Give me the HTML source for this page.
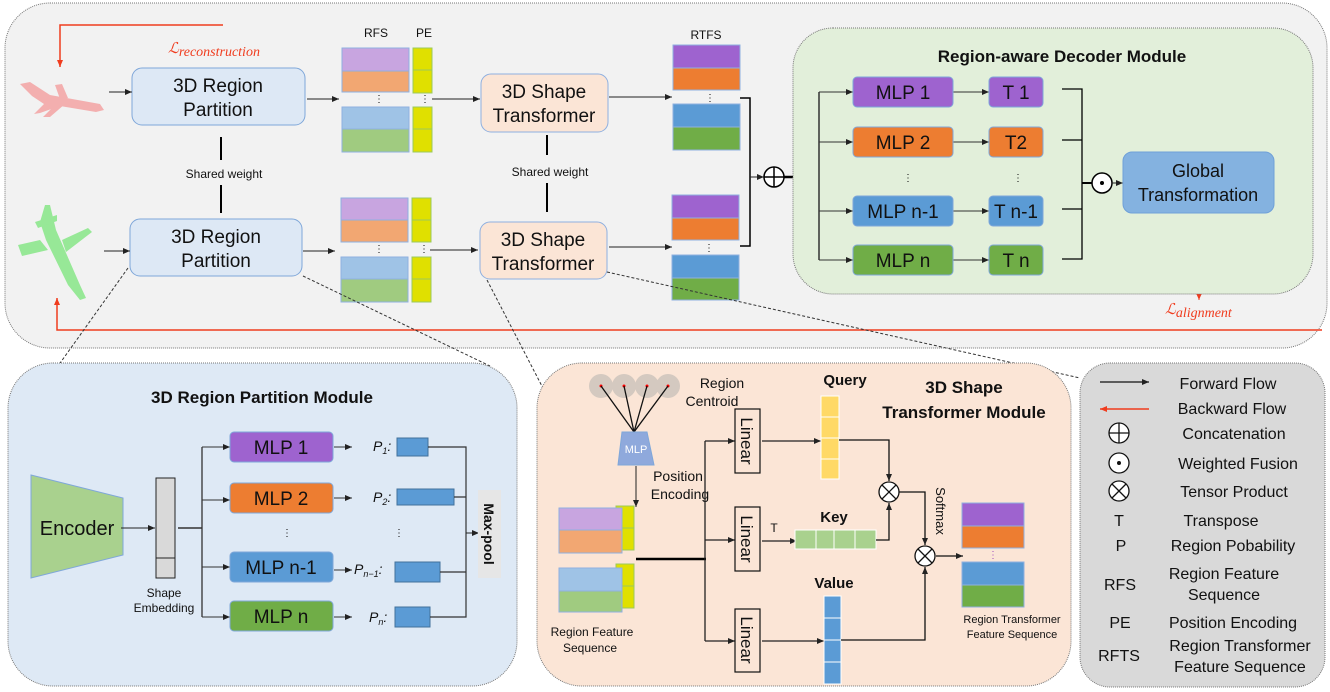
<!DOCTYPE html>
<html><head><meta charset="utf-8"><style>
html,body{margin:0;padding:0;background:#fff}
svg{display:block}
text{font-family:"Liberation Sans",Arial,sans-serif;fill:#111}
.b{font-weight:bold}
.m{font-family:"Liberation Serif",serif;font-style:italic}
</style></head><body>
<svg width="1330" height="692" viewBox="0 0 1330 692" xmlns="http://www.w3.org/2000/svg">
<defs>
<marker id="a" markerWidth="8" markerHeight="8" refX="7" refY="4" orient="auto" markerUnits="userSpaceOnUse"><path d="M0,1 L7,4 L0,7 Z" fill="#222"/></marker>
<marker id="r" markerWidth="8" markerHeight="8" refX="7" refY="4" orient="auto" markerUnits="userSpaceOnUse"><path d="M0,1 L7,4 L0,7 Z" fill="#f03c1e"/></marker>
</defs>
<rect x="5" y="3" width="1322" height="345" rx="45" fill="#f2f2f2" stroke="#777" stroke-dasharray="1,1"/>
<polyline points="223,25 60,25 60,67" fill="none" stroke="#f03c1e" stroke-width="1.5" marker-end="url(#r)"/>
<text x="168" y="53" class="m" font-size="15" style="fill:#f03c1e">ℒ<tspan font-size="14" dy="3">reconstruction</tspan></text>
<polyline points="1322,330 57,330 57,298" fill="none" stroke="#f03c1e" stroke-width="1.5" marker-end="url(#r)"/>
<line x1="1199" y1="213" x2="1199" y2="300" stroke="#f03c1e" stroke-width="1" marker-end="url(#r)"/>
<text x="1165" y="314" class="m" font-size="15" style="fill:#f03c1e">ℒ<tspan font-size="14" dy="3">alignment</tspan></text>
<g fill="#f47a7a" opacity="0.55">
<polygon points="20,84 30,82 50,95 100,104 104,110 96,112 60,106 40,113 34,114 44,104 32,96"/>
<polygon points="55,85 62,84 68,98 60,99"/>
<polygon points="55,105 65,104 50,117 43,117"/>
</g>
<g fill="#4de04d" opacity="0.55">
<polygon points="45,205 50,205 56,230 80,285 86,298 80,300 68,285 46,240 40,222"/>
<polygon points="18,245 40,240 48,250 22,256"/>
<polygon points="62,240 88,228 92,232 66,252"/>
<polygon points="35,222 57,215 57,221 38,228"/>
</g>
<rect x="132" y="68" width="173" height="57" rx="10" fill="#dde8f5" stroke="#7fa7d9"/>
<text x="218" y="92" font-size="19" text-anchor="middle">3D Region</text>
<text x="218" y="116" font-size="19" text-anchor="middle">Partition</text>
<rect x="130" y="219" width="172" height="57" rx="10" fill="#dde8f5" stroke="#7fa7d9"/>
<text x="216" y="243" font-size="19" text-anchor="middle">3D Region</text>
<text x="216" y="267" font-size="19" text-anchor="middle">Partition</text>
<line x1="109" y1="92" x2="132" y2="92" stroke="#222" marker-end="url(#a)"/>
<line x1="104" y1="251" x2="130" y2="251" stroke="#222" marker-end="url(#a)"/>
<line x1="221" y1="137" x2="221" y2="160" stroke="#000" stroke-width="2"/>
<text x="224" y="178" font-size="12" text-anchor="middle">Shared weight</text>
<line x1="221" y1="185" x2="221" y2="213" stroke="#000" stroke-width="2"/>
<line x1="307" y1="99" x2="339" y2="99" stroke="#222" marker-end="url(#a)"/>
<line x1="303" y1="251" x2="335" y2="251" stroke="#222" marker-end="url(#a)"/>
<text x="376" y="37" font-size="12" text-anchor="middle">RFS</text>
<text x="424" y="37" font-size="12" text-anchor="middle">PE</text>
<g stroke="#8fb0e0">
<rect x="342" y="48" width="67" height="23" fill="#c8a5e0"/><rect x="342" y="71" width="67" height="21" fill="#f2a772"/>
<rect x="342" y="107" width="67" height="22" fill="#9fc3e6"/><rect x="342" y="129" width="67" height="23" fill="#a0cb80"/>
<rect x="341" y="198" width="67" height="22" fill="#c8a5e0"/><rect x="341" y="220" width="67" height="22" fill="#f2a772"/>
<rect x="341" y="257" width="67" height="22" fill="#9fc3e6"/><rect x="341" y="279" width="67" height="23" fill="#a0cb80"/>
</g>
<g stroke="#9bc95c" fill="#e0e000">
<rect x="413" y="48" width="19" height="22"/><rect x="413" y="70" width="19" height="23"/>
<rect x="413" y="107" width="19" height="22"/><rect x="413" y="129" width="19" height="23"/>
<rect x="412" y="198" width="19" height="22"/><rect x="412" y="220" width="19" height="22"/>
<rect x="412" y="257" width="19" height="22"/><rect x="412" y="279" width="19" height="23"/>
</g>
<g fill="#666" font-size="10"><text x="374" y="102">⋮</text><text x="420" y="102">⋮</text><text x="374" y="252">⋮</text><text x="419" y="252">⋮</text></g>
<line x1="432" y1="99" x2="480" y2="99" stroke="#222" marker-end="url(#a)"/>
<line x1="430" y1="250" x2="478" y2="250" stroke="#222" marker-end="url(#a)"/>
<rect x="481" y="74" width="127" height="58" rx="10" fill="#fbe5d6" stroke="#8fb0e0"/>
<text x="544" y="98" font-size="19" text-anchor="middle">3D Shape</text>
<text x="544" y="122" font-size="19" text-anchor="middle">Transformer</text>
<rect x="480" y="222" width="127" height="57" rx="10" fill="#fbe5d6" stroke="#8fb0e0"/>
<text x="543" y="246" font-size="19" text-anchor="middle">3D Shape</text>
<text x="543" y="270" font-size="19" text-anchor="middle">Transformer</text>
<line x1="547" y1="135" x2="547" y2="155" stroke="#000" stroke-width="2"/>
<text x="550" y="176" font-size="12" text-anchor="middle">Shared weight</text>
<line x1="547" y1="183" x2="547" y2="212" stroke="#000" stroke-width="2"/>
<line x1="609" y1="97" x2="672" y2="97" stroke="#222" marker-end="url(#a)"/>
<line x1="609" y1="247" x2="672" y2="247" stroke="#222" marker-end="url(#a)"/>
<text x="706" y="39" font-size="12" text-anchor="middle">RTFS</text>
<g stroke="#8fb0e0">
<rect x="673" y="45" width="67" height="23" fill="#9e63cf"/><rect x="673" y="68" width="67" height="22" fill="#ed7d31"/>
<rect x="673" y="104" width="67" height="23" fill="#5b9bd5"/><rect x="673" y="127" width="67" height="23" fill="#70ad47"/>
<rect x="672" y="195" width="67" height="23" fill="#9e63cf"/><rect x="672" y="218" width="67" height="22" fill="#ed7d31"/>
<rect x="672" y="255" width="67" height="23" fill="#5b9bd5"/><rect x="672" y="278" width="67" height="22" fill="#70ad47"/>
</g>
<g fill="#666" font-size="10"><text x="705" y="101">⋮</text><text x="704" y="251">⋮</text></g>
<polyline points="740,98 750,98 750,246 740,246" fill="none" stroke="#000" stroke-width="1.5"/>
<line x1="750" y1="177" x2="764" y2="177" stroke="#222" marker-end="url(#a)"/>
<circle cx="774" cy="177" r="10" fill="#fff" stroke="#000" stroke-width="1.5"/>
<path d="M764,177 H784 M774,167 V187" stroke="#000" stroke-width="1.5"/>
<line x1="784" y1="177" x2="820" y2="177" stroke="#000" stroke-width="2.5"/>
<rect x="793" y="28" width="520" height="266" rx="40" fill="#e2efda" stroke="#777" stroke-dasharray="1,1"/>
<text x="1062" y="62" font-size="17" class="b" text-anchor="middle">Region-aware Decoder Module</text>
<line x1="819" y1="92" x2="819" y2="260" stroke="#333" stroke-width="1.5"/>
<g stroke="#333" marker-end="url(#a)">
<line x1="819" y1="92" x2="853" y2="92"/><line x1="819" y1="142" x2="853" y2="142"/>
<line x1="819" y1="211" x2="853" y2="211"/><line x1="819" y1="260" x2="853" y2="260"/>
<line x1="953" y1="92" x2="989" y2="92"/><line x1="953" y1="142" x2="989" y2="142"/>
<line x1="953" y1="211" x2="989" y2="211"/><line x1="953" y1="260" x2="989" y2="260"/>
</g>
<g stroke="#7fa7d9">
<rect x="853" y="77" width="100" height="30" rx="4" fill="#9e63cf"/>
<rect x="853" y="127" width="100" height="30" rx="4" fill="#ed7d31"/>
<rect x="853" y="196" width="100" height="30" rx="4" fill="#5b9bd5"/>
<rect x="853" y="245" width="100" height="30" rx="4" fill="#70ad47"/>
<rect x="989" y="77" width="54" height="30" rx="4" fill="#9e63cf"/>
<rect x="989" y="127" width="54" height="30" rx="4" fill="#ed7d31"/>
<rect x="989" y="196" width="54" height="30" rx="4" fill="#5b9bd5"/>
<rect x="989" y="245" width="54" height="30" rx="4" fill="#70ad47"/>
</g>
<g font-size="19" text-anchor="middle">
<text x="903" y="99">MLP 1</text><text x="903" y="149">MLP 2</text><text x="903" y="218">MLP n-1</text><text x="903" y="267">MLP n</text>
<text x="1016" y="99">T 1</text><text x="1016" y="149">T2</text><text x="1016" y="218">T n-1</text><text x="1016" y="267">T n</text>
</g>
<g fill="#999" font-size="10"><text x="903" y="181">⋮</text><text x="1013" y="181">⋮</text></g>
<g stroke="#000" stroke-width="1.3" fill="none">
<path d="M1062,89 H1082 V259 H1062 M1062,140 H1082 M1062,209 H1082"/>
</g>
<line x1="1082" y1="183" x2="1092" y2="183" stroke="#000" stroke-width="2"/>
<circle cx="1102" cy="183" r="10" fill="#fff" stroke="#000" stroke-width="1.5"/>
<circle cx="1102" cy="183" r="2" fill="#000"/>
<line x1="1112" y1="183" x2="1123" y2="183" stroke="#222" marker-end="url(#a)"/>
<rect x="1123" y="152" width="151" height="61" rx="9" fill="#84b2e0" stroke="#6fa0d8"/>
<text x="1198" y="177" font-size="18" text-anchor="middle">Global</text>
<text x="1198" y="201" font-size="18" text-anchor="middle">Transformation</text>
<g stroke="#333" stroke-dasharray="3,2" fill="none">
<line x1="128" y1="268" x2="58" y2="366"/>
<line x1="303" y1="276" x2="490" y2="366"/>
<line x1="487" y1="280" x2="545" y2="392"/>
<line x1="607" y1="272" x2="1080" y2="378"/>
</g>
<rect x="8" y="363" width="509" height="323" rx="45" fill="#dee9f5" stroke="#777" stroke-dasharray="1,1"/>
<text x="262" y="403" font-size="17" class="b" text-anchor="middle">3D Region Partition Module</text>
<polygon points="31,475 123,498 123,555 31,578" fill="#a9d18e" stroke="#7fa7d9"/>
<text x="77" y="535" font-size="20" text-anchor="middle">Encoder</text>
<line x1="121" y1="528" x2="155" y2="528" stroke="#222" marker-end="url(#a)"/>
<rect x="156" y="478" width="19" height="100" fill="#d9d9d9" stroke="#222"/>
<line x1="156" y1="558" x2="175" y2="558" stroke="#222"/>
<text x="164" y="597" font-size="12" text-anchor="middle">Shape</text>
<text x="164" y="612" font-size="12" text-anchor="middle">Embedding</text>
<line x1="178" y1="528" x2="202" y2="528" stroke="#333" stroke-width="1.5"/>
<line x1="202" y1="447" x2="202" y2="617" stroke="#333" stroke-width="1.3"/>
<g stroke="#333" marker-end="url(#a)">
<line x1="202" y1="447" x2="230" y2="447"/><line x1="202" y1="500" x2="230" y2="500"/>
<line x1="202" y1="567" x2="230" y2="567"/><line x1="202" y1="617" x2="230" y2="617"/>
<line x1="334" y1="447" x2="352" y2="447"/><line x1="334" y1="498" x2="352" y2="498"/>
<line x1="334" y1="570" x2="352" y2="570"/><line x1="334" y1="617" x2="352" y2="617"/>
</g>
<g stroke="#7fa7d9">
<rect x="230" y="432" width="103" height="30" rx="4" fill="#9e63cf"/>
<rect x="230" y="483" width="103" height="30" rx="4" fill="#ed7d31"/>
<rect x="230" y="552" width="103" height="30" rx="4" fill="#5b9bd5"/>
<rect x="230" y="601" width="103" height="30" rx="4" fill="#70ad47"/>
</g>
<g font-size="19" text-anchor="middle">
<text x="281" y="454">MLP 1</text><text x="281" y="505">MLP 2</text><text x="281" y="574">MLP n-1</text><text x="281" y="623">MLP n</text>
</g>
<g fill="#999" font-size="10"><text x="282" y="536">⋮</text><text x="394" y="536">⋮</text></g>
<g class="m" font-size="14">
<text x="373" y="451">P<tspan font-size="9" dy="3">1</tspan><tspan dy="-3">:</tspan></text>
<text x="373" y="502">P<tspan font-size="9" dy="3">2</tspan><tspan dy="-3">:</tspan></text>
<text x="354" y="574">P<tspan font-size="9" dy="3">n−1</tspan><tspan dy="-3">:</tspan></text>
<text x="369" y="622">P<tspan font-size="9" dy="3">n</tspan><tspan dy="-3">:</tspan></text>
</g>
<g fill="#5b9bd5" stroke="#41719c">
<rect x="397" y="438" width="31" height="18"/><rect x="397" y="489" width="57" height="16"/>
<rect x="395" y="562" width="45" height="20"/><rect x="395" y="607" width="35" height="20"/>
</g>
<g stroke="#333" fill="none" stroke-width="1.2">
<path d="M428,447 H466 V617 H430 M454,497 H466 M440,572 H466"/>
</g>
<line x1="466" y1="533" x2="479" y2="533" stroke="#222" marker-end="url(#a)"/>
<rect x="478" y="490" width="23" height="88" fill="#e6e6e6"/>
<text transform="translate(484,534) rotate(90)" font-size="14" class="b" text-anchor="middle">Max-pool</text>
<rect x="537" y="363" width="534" height="323" rx="45" fill="#fbe5d6" stroke="#777" stroke-dasharray="1,1"/>
<text x="964" y="393" font-size="17" class="b" text-anchor="middle">3D Shape</text>
<text x="964" y="418" font-size="17" class="b" text-anchor="middle">Transformer Module</text>
<g fill="#d4c9c0">
<circle cx="601" cy="386" r="12"/><circle cx="624" cy="386" r="12"/><circle cx="647" cy="386" r="12"/><circle cx="668" cy="386" r="12"/>
</g>
<g fill="#f00"><circle cx="601" cy="386" r="1.5"/><circle cx="624" cy="386" r="1.5"/><circle cx="647" cy="386" r="1.5"/><circle cx="668" cy="386" r="1.5"/></g>
<g stroke="#111" stroke-width="1.3"><line x1="601" y1="386" x2="634" y2="432"/><line x1="624" y1="386" x2="634" y2="432"/><line x1="647" y1="386" x2="634" y2="432"/><line x1="668" y1="386" x2="634" y2="432"/></g>
<polygon points="622,432 647,432 654,465 618,465" fill="#8fa9dc" stroke="#7fa7d9"/>
<text x="636" y="453" font-size="11" text-anchor="middle" style="fill:#fff">MLP</text>
<text x="722" y="388" font-size="14" text-anchor="middle">Region</text>
<text x="712" y="406" font-size="14" text-anchor="middle">Centroid</text>
<line x1="636" y1="466" x2="636" y2="507" stroke="#222" marker-end="url(#a)"/>
<text x="678" y="481" font-size="14" text-anchor="middle">Position</text>
<text x="680" y="499" font-size="14" text-anchor="middle">Encoding</text>
<g stroke="#9bc95c" fill="#e0e000"><rect x="616" y="506" width="18" height="22"/><rect x="616" y="528" width="18" height="22"/><rect x="616" y="564" width="18" height="22"/><rect x="616" y="586" width="18" height="22"/></g>
<g stroke="#8fb0e0"><rect x="559" y="508" width="63" height="22" fill="#c8a5e0"/><rect x="559" y="530" width="63" height="23" fill="#f2a772"/><rect x="559" y="568" width="63" height="23" fill="#9fc3e6"/><rect x="559" y="591" width="63" height="21" fill="#a0cb80"/></g>
<text x="592" y="636" font-size="12" text-anchor="middle">Region Feature</text>
<text x="590" y="652" font-size="12" text-anchor="middle">Sequence</text>
<line x1="636" y1="559" x2="706" y2="559" stroke="#000" stroke-width="2.5"/>
<line x1="705" y1="441" x2="705" y2="641" stroke="#222" stroke-width="1.3"/>
<g stroke="#222" stroke-width="1.3" marker-end="url(#a)">
<line x1="705" y1="441" x2="735" y2="441"/><line x1="705" y1="540" x2="735" y2="540"/><line x1="705" y1="641" x2="735" y2="641"/>
<line x1="762" y1="441" x2="821" y2="441"/><line x1="762" y1="541" x2="797" y2="541"/><line x1="762" y1="641" x2="824" y2="641"/>
</g>
<g fill="none" stroke="#111" stroke-width="1.2"><rect x="735" y="409" width="25" height="64"/><rect x="735" y="507" width="25" height="64"/><rect x="735" y="609" width="25" height="63"/></g>
<g font-size="17" text-anchor="middle">
<text transform="translate(741,441) rotate(90)">Linear</text>
<text transform="translate(741,539) rotate(90)">Linear</text>
<text transform="translate(741,640) rotate(90)">Linear</text>
</g>
<text x="845" y="385" font-size="15" class="b" text-anchor="middle">Query</text>
<g fill="#ffd966" stroke="#fff"><rect x="821" y="396" width="18" height="21"/><rect x="821" y="417" width="18" height="21"/><rect x="821" y="438" width="18" height="21"/><rect x="821" y="459" width="18" height="20"/></g>
<text x="774" y="532" font-size="12" text-anchor="middle">T</text>
<text x="834" y="522" font-size="15" class="b" text-anchor="middle">Key</text>
<g fill="#a9d18e" stroke="#fff"><rect x="795" y="530" width="21" height="19"/><rect x="816" y="530" width="18" height="19"/><rect x="834" y="530" width="21" height="19"/><rect x="855" y="530" width="21" height="19"/></g>
<text x="834" y="588" font-size="15" class="b" text-anchor="middle">Value</text>
<g fill="#5b9bd5" stroke="#fff"><rect x="824" y="596" width="17" height="22"/><rect x="824" y="618" width="17" height="22"/><rect x="824" y="640" width="17" height="22"/><rect x="824" y="662" width="17" height="22"/></g>
<g fill="none" stroke="#111" stroke-width="1.3">
<polyline points="839,440 889,440 889,481" marker-end="url(#a)"/>
<polyline points="876,540 889,540 889,503" marker-end="url(#a)"/>
<polyline points="899,492 925,492 925,545" marker-end="url(#a)"/>
<polyline points="841,640 925,640 925,567" marker-end="url(#a)"/>
<line x1="936" y1="556" x2="963" y2="556" marker-end="url(#a)"/>
</g>
<g fill="#fff" stroke="#111" stroke-width="1.3">
<circle cx="889" cy="492" r="10"/><circle cx="925" cy="556" r="10"/>
</g>
<path d="M882,485 L896,499 M896,485 L882,499 M918,549 L932,563 M932,549 L918,563" stroke="#111" stroke-width="1.3"/>
<text transform="translate(936,511) rotate(90)" font-size="13" text-anchor="middle">Softmax</text>
<g stroke="#8fb0e0"><rect x="962" y="503" width="62" height="23" fill="#9e63cf"/><rect x="962" y="526" width="62" height="22" fill="#ed7d31"/><rect x="962" y="562" width="62" height="23" fill="#5b9bd5"/><rect x="962" y="585" width="62" height="22" fill="#70ad47"/></g>
<text x="993" y="558" font-size="10" text-anchor="middle" style="fill:#a050c0">⋮</text>
<text x="1012" y="623" font-size="11" text-anchor="middle">Region Transformer</text>
<text x="1012" y="638" font-size="11" text-anchor="middle">Feature Sequence</text>
<rect x="1080" y="363" width="245" height="324" rx="30" fill="#d9d9d9" stroke="#777" stroke-dasharray="1,1"/>
<line x1="1100" y1="382" x2="1149" y2="382" stroke="#111" stroke-width="1.3" marker-end="url(#a)"/>
<line x1="1149" y1="409" x2="1100" y2="409" stroke="#f03c1e" stroke-width="1.5" marker-end="url(#r)"/>
<g fill="#fff" stroke="#111" stroke-width="1.3"><circle cx="1119" cy="433" r="10"/><circle cx="1119" cy="463" r="10"/><circle cx="1119" cy="491" r="10"/></g>
<path d="M1109,433 H1129 M1119,423 V443 M1112,484 L1126,498 M1126,484 L1112,498" stroke="#111" stroke-width="1.3"/>
<circle cx="1119" cy="463" r="2" fill="#111"/>
<g font-size="16" text-anchor="middle">
<text x="1228" y="389">Forward Flow</text>
<text x="1232" y="414">Backward Flow</text>
<text x="1234" y="439">Concatenation</text>
<text x="1238" y="469">Weighted Fusion</text>
<text x="1234" y="497">Tensor Product</text>
<text x="1119" y="526">T</text><text x="1221" y="526">Transpose</text>
<text x="1121" y="551">P</text><text x="1233" y="551">Region Pobability</text>
<text x="1120" y="590">RFS</text><text x="1224" y="579">Region Feature</text><text x="1224" y="600">Sequence</text>
<text x="1120" y="628">PE</text><text x="1233" y="628">Position Encoding</text>
<text x="1119" y="661">RFTS</text><text x="1240" y="651">Region Transformer</text><text x="1240" y="672">Feature Sequence</text>
</g>
</svg>
</body></html>
